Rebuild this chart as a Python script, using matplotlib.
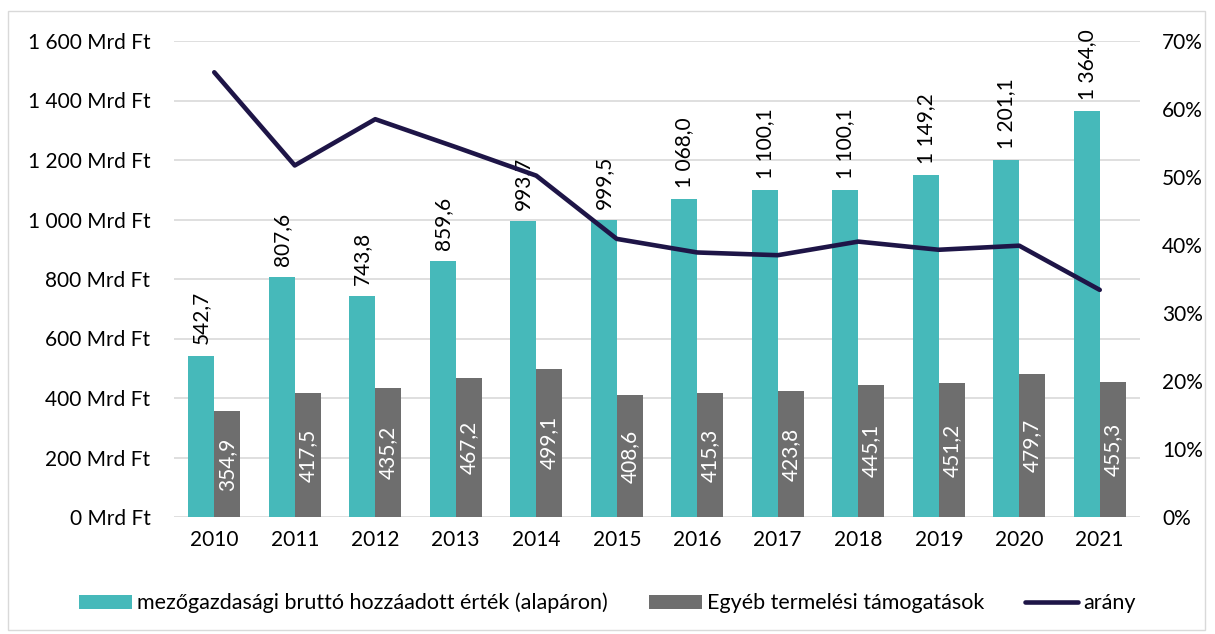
import numpy as np
import matplotlib.pyplot as plt
from matplotlib.patches import Rectangle
from matplotlib.ticker import FuncFormatter, MultipleLocator

plt.rcParams['font.family'] = ['Lato', 'DejaVu Sans']

years = ['2010', '2011', '2012', '2013', '2014', '2015', '2016', '2017', '2018', '2019', '2020', '2021']
gva = [542.7, 807.6, 743.8, 859.6, 993.7, 999.5, 1068.0, 1100.1, 1100.1, 1149.2, 1201.1, 1364.0]
subsidies = [354.9, 417.5, 435.2, 467.2, 499.1, 408.6, 415.3, 423.8, 445.1, 451.2, 479.7, 455.3]
ratio = [65.4, 51.7, 58.5, 54.4, 50.2, 40.9, 38.9, 38.5, 40.5, 39.3, 39.9, 33.4]

teal = '#46B9BA'
grey = '#6E6E6E'
navy = '#1E1547'
fs = 15


def hu(v, dec=1):
    s = f'{v:,.{dec}f}'
    return s.replace(',', ' ').replace('.', ',')


fig = plt.figure(figsize=(12.15, 6.34), dpi=100)
fig.patches.append(Rectangle((8 / 1215, 4 / 634), 1197 / 1215, 619 / 634,
                             transform=fig.transFigure, fill=False,
                             edgecolor='#D9D9D9', linewidth=1))
ax = fig.add_axes([174 / 1215, 1 - 517 / 634, 966 / 1215, 476 / 634])
ax2 = ax.twinx()

x = np.arange(len(years))
w = 0.323
b1 = ax.bar(x - w / 2, gva, w, color=teal, label='mezőgazdasági bruttó hozzáadott érték (alapáron)', zorder=2)
b2 = ax.bar(x + w / 2, subsidies, w, color=grey, label='Egyéb termelési támogatások', zorder=2)

for xi, v in zip(x, gva):
    ax.annotate(hu(v), (xi - w / 2, v), xytext=(0, 8), textcoords='offset points',
                rotation=90, ha='center', va='bottom', fontsize=fs, color='black')
for xi, v in zip(x, subsidies):
    ax.text(xi + w / 2, v / 2, hu(v), rotation=90, ha='center', va='center',
            fontsize=fs, color='white')

ln, = ax2.plot(x, ratio, color=navy, linewidth=3.3, label='arány', solid_capstyle='round', zorder=3)

ax.set_xlim(-0.5, len(years) - 0.5)
ax.set_ylim(0, 1600)
ax.yaxis.set_major_locator(MultipleLocator(200))
ax.yaxis.set_major_formatter(FuncFormatter(lambda v, p: hu(v, 0) + ' Mrd Ft'))
ax2.set_ylim(0, 70)
ax2.yaxis.set_major_locator(MultipleLocator(10))
ax2.yaxis.set_major_formatter(FuncFormatter(lambda v, p: f'{v:.0f}%'))

ax.set_xticks(x)
ax.set_xticklabels(years)
ax.grid(axis='y', color='#D9D9D9', linewidth=1.2, zorder=0)
ax.set_axisbelow(True)
for a in (ax, ax2):
    for s in a.spines.values():
        s.set_visible(False)
    a.tick_params(length=0, labelsize=fs, colors='black')
ax.tick_params(axis='y', pad=17)
ax.tick_params(axis='x', pad=9)
ax2.tick_params(axis='y', pad=16)

fig.legend(handles=[b1, b2, ln], loc='center', bbox_to_anchor=(0.5, 1 - 603 / 634),
           ncol=3, frameon=False, fontsize=15.5, handlelength=2.45, handleheight=0.65,
           handletextpad=0.25, columnspacing=1.9)

fig.savefig('out.png', dpi=100)
